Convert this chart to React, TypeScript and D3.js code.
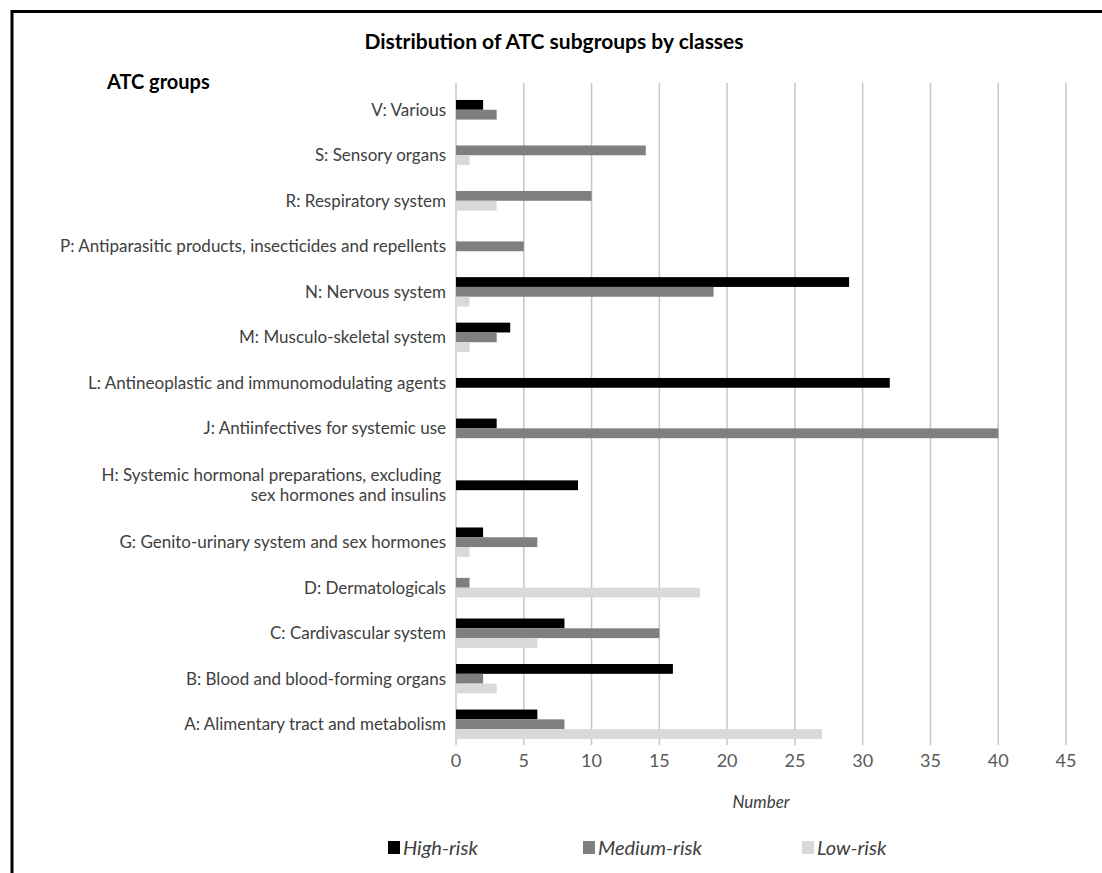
import * as React from "react";
import * as d3 from "d3";

// ATC groups, top to bottom as drawn ("\n" splits a label over two lines)
const categories = [
  "V: Various",
  "S: Sensory organs",
  "R: Respiratory system",
  "P: Antiparasitic products, insecticides and repellents",
  "N: Nervous system",
  "M: Musculo-skeletal system",
  "L: Antineoplastic and immunomodulating agents",
  "J: Antiinfectives for systemic use",
  "H: Systemic hormonal preparations, excluding\nsex hormones and insulins",
  "G: Genito-urinary system and sex hormones",
  "D: Dermatologicals",
  "C: Cardivascular system",
  "B: Blood and blood-forming organs",
  "A: Alimentary tract and metabolism",
];

const highRisk = [2, 0, 0, 0, 29, 4, 32, 3, 9, 2, 0, 8, 16, 6];
const mediumRisk = [3, 14, 10, 5, 19, 3, 0, 40, 0, 6, 1, 15, 2, 8];
const lowRisk = [0, 1, 3, 0, 1, 1, 0, 0, 0, 1, 18, 6, 3, 27];

const seriesNames = ["High-risk", "Medium-risk", "Low-risk"];
const seriesColors = ["#000000", "#7f7f7f", "#d9d9d9"];
const xTicks = [0, 5, 10, 15, 20, 25, 30, 35, 40, 45];

const W = 1102;
const H = 873;
const FONT = "Lato, 'Noto Sans', sans-serif";

export default function App() {
  const series = [highRisk, mediumRisk, lowRisk];

  const x = d3.scaleLinear().domain([0, 45]).range([456, 1066]);

  // rows with two-line labels take more room
  const lines = categories.map((c) => c.split("\n"));
  const weights = lines.map((l) => 1 + 0.5 * (l.length - 1));
  const cum = Array.from(d3.cumsum(weights));
  const total = d3.sum(weights);
  const yUnit = d3.scaleLinear().domain([0, total]).range([87, 747]);
  const rowCenter = (i: number) => yUnit(cum[i] - weights[i] / 2);

  const barH = 9.8;
  const gridTop = 83;
  const gridBottom = 745;

  const legendX = [388, 583, 802];

  return (
    <svg
      width={W}
      height={H}
      style={{ position: "absolute", left: 0, top: 0, background: "#fff" }}
      fontFamily={FONT}
    >
      <rect x={0} y={0} width={W} height={H} fill="#fff" />
      <rect
        x={12}
        y={11.5}
        width={1092}
        height={900}
        fill="none"
        stroke="#000"
        strokeWidth={3}
      />

      <text
        x={554}
        y={49}
        textAnchor="middle"
        fontSize={21}
        fontWeight={700}
        fill="#000"
      >
        Distribution of ATC subgroups by classes
      </text>
      <text x={107} y={89} fontSize={20} fontWeight={700} fill="#000">
        ATC groups
      </text>

      {/* gridlines */}
      {xTicks.map((t) => (
        <line
          key={t}
          x1={x(t)}
          x2={x(t)}
          y1={gridTop}
          y2={gridBottom}
          stroke="#c6c6c6"
          strokeWidth={1.5}
        />
      ))}

      {/* bars: only the series present in a group share its row */}
      {categories.map((c, i) => {
        const present = series
          .map((s, k) => ({ k, v: s[i] }))
          .filter((d) => d.v > 0);
        const cy = rowCenter(i);
        const inner = d3
          .scaleBand<number>()
          .domain(present.map((d) => d.k))
          .range([cy - (present.length * barH) / 2, cy + (present.length * barH) / 2]);
        return (
          <g key={c}>
            {present.map((d) => (
              <rect
                key={d.k}
                x={x(0)}
                y={inner(d.k)}
                width={x(d.v) - x(0)}
                height={inner.bandwidth()}
                fill={seriesColors[d.k]}
              />
            ))}
          </g>
        );
      })}

      {/* category labels */}
      {lines.map((l, i) => {
        const cy = rowCenter(i);
        const lh = 20;
        return (
          <text key={i} textAnchor="end" fontSize={17} fill="#404040">
            {l.map((s, j) => (
              <tspan
                key={j}
                x={j < l.length - 1 ? 441 : 446}
                y={cy + 6 + (j - (l.length - 1) / 2) * lh}
              >
                {s}
              </tspan>
            ))}
          </text>
        );
      })}

      {/* tick labels */}
      {xTicks.map((t) => (
        <text
          key={t}
          x={x(t)}
          y={767}
          textAnchor="middle"
          fontSize={18}
          fill="#595959"
        >
          {t}
        </text>
      ))}
      <text
        x={(x(0) + x(45)) / 2}
        y={808}
        textAnchor="middle"
        fontSize={17}
        fontStyle="italic"
        fill="#404040"
      >
        Number
      </text>

      {/* legend */}
      {seriesNames.map((n, k) => (
        <g key={n}>
          <rect
            x={legendX[k]}
            y={841}
            width={12}
            height={13}
            fill={seriesColors[k]}
          />
          <text
            x={legendX[k] + 15}
            y={855}
            fontSize={20}
            fontStyle="italic"
            fill="#404040"
          >
            {n}
          </text>
        </g>
      ))}
    </svg>
  );
}
